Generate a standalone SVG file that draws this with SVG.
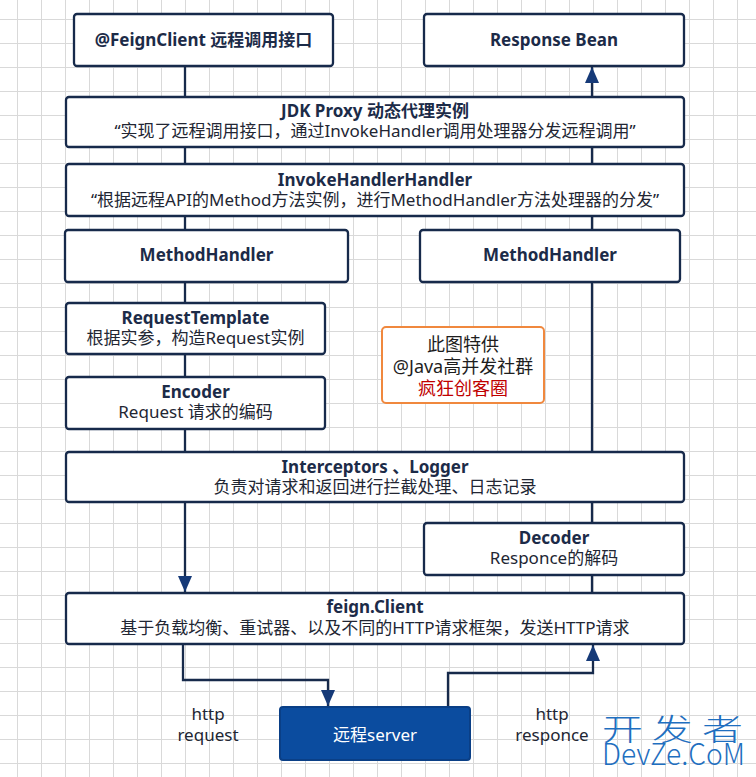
<svg xmlns="http://www.w3.org/2000/svg" width="756" height="777" viewBox="0 0 756 777">
<defs>
<pattern id="grid" patternUnits="userSpaceOnUse" x="17" y="19" width="24" height="24">
<path d="M0.5 0 V24 M0 0.5 H24" stroke="#d9d9d9" stroke-width="1" fill="none"/>
</pattern>
<marker id="arr" viewBox="0 0 16 14" refX="16" refY="7" markerWidth="16" markerHeight="14" markerUnits="userSpaceOnUse" orient="auto">
<path d="M0,0 L16,7 L0,14 z" fill="#163a78"/>
</marker>
</defs>
<style>
.box{fill:#ffffff;stroke:#172a4b;stroke-width:2.3}
.t{font-family:"Noto Sans","Noto Sans CJK SC",sans-serif;font-size:17px;font-weight:bold;fill:#1c2b48;text-anchor:middle}
.s{font-family:"Noto Sans","Noto Sans CJK SC",sans-serif;font-size:17px;fill:#222633;text-anchor:middle}
.n{font-family:"Noto Sans","Noto Sans CJK SC",sans-serif;font-size:18px;fill:#1e1e1e;text-anchor:middle}
.c{fill:none;stroke:#172a4b;stroke-width:2.3}
.ca{fill:none;stroke:#172a4b;stroke-width:2.3;marker-end:url(#arr)}
.w{font-family:"Noto Sans CJK SC",sans-serif;font-size:30px;font-weight:300;fill:#1f6fc0}
</style>
<rect width="756" height="777" fill="#ffffff"/>
<rect width="756" height="777" fill="url(#grid)"/>

<g id="connectors">
<path class="c" d="M185 66 V97"/>
<path class="ca" d="M592 97 V67"/>
<path class="c" d="M185 147 V164"/>
<path class="c" d="M592 147 V164"/>
<path class="c" d="M185 216 V230"/>
<path class="c" d="M592 216 V230"/>
<path class="c" d="M185 282 V303"/>
<path class="c" d="M185 354 V377"/>
<path class="c" d="M185 429 V452"/>
<path class="c" d="M592 282 V452"/>
<path class="ca" d="M185 502 V592"/>
<path class="c" d="M592 502 V523"/>
<path class="c" d="M592 575 V593"/>
<path class="ca" d="M183 644 V680 H328 V706"/>
<path class="ca" d="M448 707 V673 H593 V645"/>
</g>

<g id="feignclient">
<rect class="box" x="74" y="14" width="259" height="52" rx="3"/>
<text class="t" x="203.5" y="46">@FeignClient 远程调用接口</text>
</g>
<g id="responsebean">
<rect class="box" x="424" y="14" width="260" height="52" rx="3"/>
<text class="t" x="554" y="46">Response Bean</text>
</g>
<g id="jdkproxy">
<rect class="box" x="66" y="97" width="618" height="50" rx="3"/>
<text class="t" x="375" y="117">JDK Proxy 动态代理实例</text>
<text class="s" x="375" y="137">“实现了远程调用接口，通过InvokeHandler调用处理器分发远程调用”</text>
</g>
<g id="invokehandler">
<rect class="box" x="66" y="164" width="618" height="52" rx="3"/>
<text class="t" x="375" y="186">InvokeHandlerHandler</text>
<text class="s" x="375" y="206">“根据远程API的Method方法实例，进行MethodHandler方法处理器的分发”</text>
</g>
<g id="methodhandler-left">
<rect class="box" x="65" y="230" width="283" height="52" rx="3"/>
<text class="t" x="206.5" y="261">MethodHandler</text>
</g>
<g id="methodhandler-right">
<rect class="box" x="420" y="230" width="260" height="52" rx="3"/>
<text class="t" x="550" y="261">MethodHandler</text>
</g>
<g id="requesttemplate">
<rect class="box" x="66" y="303" width="259" height="51" rx="3"/>
<text class="t" x="195.5" y="324">RequestTemplate</text>
<text class="s" x="195.5" y="344">根据实参，构造Request实例</text>
</g>
<g id="encoder">
<rect class="box" x="66" y="377" width="259" height="52" rx="3"/>
<text class="t" x="195.5" y="398">Encoder</text>
<text class="s" x="195.5" y="418">Request 请求的编码</text>
</g>
<g id="note">
<rect x="382" y="327" width="162" height="76" rx="4" fill="#ffffff" stroke="#f0883e" stroke-width="2"/>
<text class="n" x="463" y="351">此图特供</text>
<text class="n" x="463" y="373">@Java高并发社群</text>
<text class="n" x="463" y="395" style="fill:#c00000">疯狂创客圈</text>
</g>
<g id="interceptors">
<rect class="box" x="66" y="452" width="618" height="50" rx="3"/>
<text class="t" x="375" y="473">Interceptors 、Logger</text>
<text class="s" x="375" y="493">负责对请求和返回进行拦截处理、日志记录</text>
</g>
<g id="decoder">
<rect class="box" x="424" y="523" width="260" height="52" rx="3"/>
<text class="t" x="554" y="544">Decoder</text>
<text class="s" x="554" y="564">Responce的解码</text>
</g>
<g id="feign-client">
<rect class="box" x="66" y="593" width="618" height="51" rx="3"/>
<text class="t" x="375" y="613">feign.Client</text>
<text class="s" x="375" y="634">基于负载均衡、重试器、以及不同的HTTP请求框架，发送HTTP请求</text>
</g>
<g id="server">
<rect x="280" y="707" width="190" height="53" rx="3" fill="#0b4c9f" stroke="#0a3f86" stroke-width="2"/>
<text class="s" x="375" y="741" style="fill:#ffffff">远程server</text>
</g>
<g id="labels">
<text class="s" x="208" y="720">http</text>
<text class="s" x="208" y="741">request</text>
<text class="s" x="552" y="720">http</text>
<text class="s" x="552" y="741">responce</text>
</g>
<g id="watermark">
<text class="w" x="602" y="740" textLength="141" lengthAdjust="spacingAndGlyphs">开 发 者</text>
<text class="w" x="602" y="765" textLength="143" lengthAdjust="spacingAndGlyphs">DevZe.CoM</text>
</g>
</svg>
